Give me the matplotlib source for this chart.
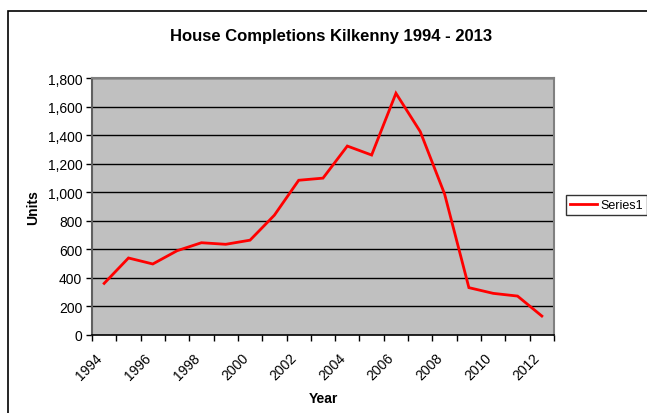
import matplotlib
matplotlib.use("Agg")
import matplotlib.pyplot as plt
from matplotlib.patches import Rectangle
import matplotlib.transforms as mtransforms
import numpy as np

plt.rcParams['font.family'] = ['Liberation Sans', 'DejaVu Sans']

years = [1994, 1995, 1996, 1997, 1998, 1999, 2000, 2001, 2002, 2003,
         2004, 2005, 2006, 2007, 2008, 2009, 2010, 2011, 2012]
units = [362, 540, 498, 591, 647, 636, 665, 840, 1085, 1100,
         1325, 1262, 1695, 1426, 989, 332, 292, 273, 133]
series_name = "Series1"
title = "House Completions Kilkenny 1994 - 2013"
yticks = [0, 200, 400, 600, 800, 1000, 1200, 1400, 1600, 1800]

W, H = 647, 414
fig = plt.figure(figsize=(W / 100, H / 100), dpi=100)

# outer chart border (extends past right and bottom edges)
fig.patches.append(Rectangle((8 / W, -10 / H), (W + 10) / W, (H - 2) / H,
                             transform=fig.transFigure, fill=False,
                             edgecolor='black', linewidth=1.2, zorder=0))

ax = fig.add_axes([92 / W, (H - 336) / H, (554 - 92) / W, (336 - 79.3) / H])
ax.set_facecolor('#C0C0C0')

x = np.arange(len(years))
line, = ax.plot(x, units, color='#FF0000', linewidth=2, label=series_name,
                zorder=3, solid_joinstyle='miter')

ax.set_xlim(-0.5, len(years) - 0.5)
ax.set_ylim(0, 1800)
ax.set_yticks(yticks)
ax.set_yticklabels([f"{v:,}" for v in yticks], fontsize=10)
for v in yticks[1:]:
    ax.axhline(v, color='black', linewidth=1, zorder=1)

ax.set_xticks(x[::2])
ax.set_xticklabels([str(y) for y in years[::2]], rotation=45, ha='right',
                   va='top', rotation_mode='anchor', fontsize=10)
ax.tick_params(axis='x', which='major', length=0, pad=11)
offset = mtransforms.ScaledTranslation(-9 / 100, 0, fig.dpi_scale_trans)
for lbl in ax.get_xticklabels():
    lbl.set_transform(lbl.get_transform() + offset)
ax.set_xticks(np.arange(len(years) + 1) - 0.5, minor=True)
ax.tick_params(axis='x', which='minor', length=4, width=1, color='black', direction='out')
ax.tick_params(axis='y', length=4, width=1, color='black', direction='out', pad=3)

for s in ['top', 'right']:
    ax.spines[s].set_color('#808080')
    ax.spines[s].set_linewidth(1.5)
ax.spines['left'].set_color('#606060')
ax.spines['left'].set_linewidth(1.5)
ax.spines['bottom'].set_color('black')
ax.spines['bottom'].set_linewidth(1.2)

ax.set_xlabel("Year", fontsize=10, fontweight='bold', labelpad=6)
ax.set_ylabel("Units", fontsize=10, fontweight='bold', labelpad=5)

fig.text(331 / W, 1 - 36.5 / H, title, ha='center', va='center',
         fontsize=12, fontweight='bold')

leg = fig.legend(handles=[line], loc='center left',
                 bbox_to_anchor=(566 / W, 1 - 206 / H), fontsize=9,
                 frameon=True, fancybox=False, handlelength=2.15,
                 handletextpad=0.25, borderpad=0.32, borderaxespad=0)
leg.get_frame().set_edgecolor('black')
leg.get_frame().set_linewidth(1)

fig.savefig("out.png", dpi=100)
